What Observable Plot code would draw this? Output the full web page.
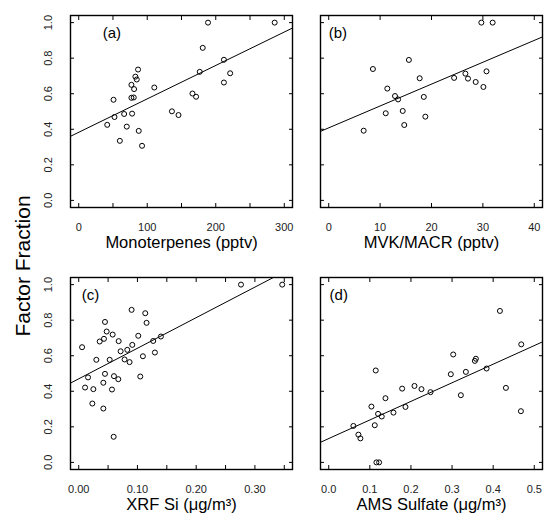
<!DOCTYPE html>
<html>
<head>
<meta charset="utf-8">
<script src="https://cdn.jsdelivr.net/npm/d3@7"></script>
<script src="https://cdn.jsdelivr.net/npm/@observablehq/plot@0.6"></script>
<style>
  body { margin: 0; background: #fff; }
  #wrap { position: relative; width: 544px; height: 524px; background: #fff;
          font-family: "Liberation Sans", Arial, Helvetica, sans-serif; }
  .panel { position: absolute; }
  #ylab { position: absolute; left: 23px; top: 266px; z-index: 5; white-space: nowrap;
          font-size: 21px; color: #000; transform: translate(-50%, -50%) rotate(-90deg); }
</style>
</head>
<body>
<div id="wrap"><div id="ylab">Factor Fraction</div></div>
<script>
// ---- data ----
const monoX = [41.6, 50.8, 52.2, 60, 66.3, 70.1, 76.9, 77.9, 76.9, 80.3, 80.8, 82.7, 84.7, 86.6, 87.6, 92.4, 110.3, 136, 145.6, 166, 171.3, 176.6, 181, 188.7, 211.9, 211.9, 221, 286];
const monoY = [0.425, 0.566, 0.469, 0.335, 0.486, 0.415, 0.650, 0.488, 0.577, 0.579, 0.626, 0.696, 0.680, 0.736, 0.391, 0.307, 0.635, 0.501, 0.480, 0.601, 0.583, 0.723, 0.858, 1.0, 0.663, 0.791, 0.715, 1.0];

const mvkX = [6.8, 8.6, 11.1, 11.4, 12.9, 13.5, 14.4, 14.7, 15.6, 17.7, 18.5, 18.8, 24.4, 26.6, 27.1, 28.6, 29.7, 30.1, 30.7, 31.9];
const mvkY = [0.392, 0.739, 0.490, 0.629, 0.587, 0.568, 0.503, 0.424, 0.790, 0.687, 0.582, 0.471, 0.689, 0.713, 0.685, 0.666, 1.0, 0.638, 0.726, 1.0];

const siX = [0.0057, 0.0108, 0.0159, 0.0232, 0.0249, 0.030, 0.0357, 0.0419, 0.0419, 0.043, 0.0447, 0.0447, 0.0476, 0.0527, 0.0566, 0.0578, 0.0595, 0.060, 0.0674, 0.068, 0.0713, 0.0781, 0.0827, 0.0866, 0.090, 0.0912, 0.1014, 0.1048, 0.1093, 0.1133, 0.1155, 0.1268, 0.1297, 0.1399, 0.2763, 0.3465];
const siY = [0.648, 0.421, 0.478, 0.331, 0.412, 0.577, 0.680, 0.303, 0.448, 0.695, 0.498, 0.790, 0.736, 0.577, 0.410, 0.719, 0.144, 0.485, 0.468, 0.682, 0.625, 0.579, 0.633, 0.564, 0.858, 0.661, 0.712, 0.483, 0.597, 0.839, 0.785, 0.683, 0.618, 0.708, 1.0, 1.0];

const so4X = [0.060, 0.0722, 0.0771, 0.1039, 0.112, 0.1144, 0.116, 0.1226, 0.120, 0.129, 0.138, 0.1575, 0.1786, 0.1867, 0.2086, 0.2256, 0.2476, 0.297, 0.3028, 0.3214, 0.3336, 0.3555, 0.358, 0.384, 0.4164, 0.431, 0.4675, 0.4683];
const so4Y = [0.205, 0.156, 0.135, 0.314, 0.209, 0.517, 0.0, 0.0, 0.273, 0.258, 0.361, 0.280, 0.415, 0.312, 0.430, 0.412, 0.395, 0.496, 0.607, 0.378, 0.509, 0.571, 0.583, 0.528, 0.852, 0.419, 0.288, 0.664];

// fitted lines (intercept, slope)
const fitIntercept = [0.383, 0.408, 0.47, 0.134];
const fitSlope = [0.00188, 0.0123, 1.72, 1.046];

const panelTags = ["(a)", "(b)", "(c)", "(d)"];
const xTitles = ["Monoterpenes (pptv)", "MVK/MACR (pptv)", "XRF Si (\u03bcg/m\u00b3)", "AMS Sulfate (\u03bcg/m\u00b3)"];

const xTicksA = [0, 50, 100, 150, 200, 250, 300];
const xLabelsA = [0, 100, 200, 300];
const xTicksB = [0, 10, 20, 30, 40];
const xLabelsB = [0, 10, 20, 30, 40];
const xTicksC = [0, 0.05, 0.10, 0.15, 0.20, 0.25, 0.30, 0.35];
const xLabelsC = [0, 0.10, 0.20, 0.30];
const xTicksD = [0, 0.1, 0.2, 0.3, 0.4, 0.5];
const xLabelsD = [0, 0.1, 0.2, 0.3, 0.4, 0.5];
const yTicks = [0, 0.2, 0.4, 0.6, 0.8, 1.0];

// ---- drawing ----
const FONT = '"Liberation Sans", Arial, Helvetica, sans-serif';

function panel(cfg) {
  const pts = cfg.xs.map((x, i) => ({x, y: cfg.ys[i]}));
  const fit = cfg.xDomain.map(x => ({x, y: cfg.b0 + cfg.b1 * x}));
  const marks = [
    Plot.frame({stroke: "black", strokeWidth: 1.4}),
    Plot.axisX({anchor: "bottom", ticks: cfg.ticks, tickSize: -4, fill: "none", label: null}),
    Plot.axisX({anchor: "top", ticks: cfg.ticks, tickSize: -4, fill: "none", label: null}),
    Plot.axisY({anchor: "left", ticks: yTicks, tickSize: -4, fill: "none", label: null}),
    Plot.axisY({anchor: "right", ticks: yTicks, tickSize: -4, fill: "none", label: null}),
    Plot.axisX({anchor: "bottom", ticks: cfg.labels, tickSize: 0, tickPadding: 16, tickFormat: cfg.fmt, label: null, fill: "#222"}),
    Plot.line(fit, {x: "x", y: "y", stroke: "black", strokeWidth: 1, clip: true}),
    Plot.dot(pts, {x: "x", y: "y", r: 2.5, stroke: "black", strokeWidth: 1, fill: "none"}),
    Plot.text([cfg.tag], {x: cfg.tagX, y: 0.94, text: d => d, textAnchor: "start", fontSize: 15, fill: "black"}),
    Plot.text([cfg.title], {frameAnchor: "bottom", dy: 40, text: d => d, fontSize: 16.5, fill: "black"})
  ];
  if (cfg.showY) {
    marks.push(Plot.axisY({anchor: "left", ticks: yTicks, tickSize: 0, tickPadding: 19, tickRotate: -90,
      tickFormat: d => d.toFixed(1), label: null, fill: "#222"}));
  }
  const svg = Plot.plot({
    width: cfg.width, height: 262,
    marginLeft: cfg.ml, marginRight: cfg.mr, marginTop: 15, marginBottom: 55,
    x: {domain: cfg.xDomain},
    y: {domain: [-0.04, 1.04]},
    style: {fontFamily: FONT, fontSize: "11px", color: "black", background: "white"},
    marks
  });
  svg.classList.add("panel");
  svg.style.left = cfg.left + "px";
  svg.style.top = cfg.top + "px";
  svg.style.maxWidth = "none";
  document.getElementById("wrap").appendChild(svg);
}

panel({xs: monoX, ys: monoY, xDomain: [-12, 312], ticks: xTicksA, labels: xLabelsA, fmt: d => String(d),
  title: xTitles[0], tag: panelTags[0], tagX: 35, b0: fitIntercept[0], b1: fitSlope[0], showY: true,
  left: 0, top: 0, width: 300, ml: 70, mr: 8});
panel({xs: mvkX, ys: mvkY, xDomain: [-1.6, 41.6], ticks: xTicksB, labels: xLabelsB, fmt: d => String(d),
  title: xTitles[1], tag: panelTags[1], tagX: 0, b0: fitIntercept[1], b1: fitSlope[1], showY: false,
  left: 300, top: 0, width: 244, ml: 20, mr: 2});
panel({xs: siX, ys: siY, xDomain: [-0.014, 0.364], ticks: xTicksC, labels: xLabelsC, fmt: d => d.toFixed(2),
  title: xTitles[2], tag: panelTags[2], tagX: 0.005, b0: fitIntercept[2], b1: fitSlope[2], showY: true,
  left: 0, top: 262, width: 300, ml: 70, mr: 8});
panel({xs: so4X, ys: so4Y, xDomain: [-0.02, 0.52], ticks: xTicksD, labels: xLabelsD, fmt: d => d.toFixed(1),
  title: xTitles[3], tag: panelTags[3], tagX: 0.002, b0: fitIntercept[3], b1: fitSlope[3], showY: false,
  left: 300, top: 262, width: 244, ml: 20, mr: 2});
</script>
</body>
</html>
